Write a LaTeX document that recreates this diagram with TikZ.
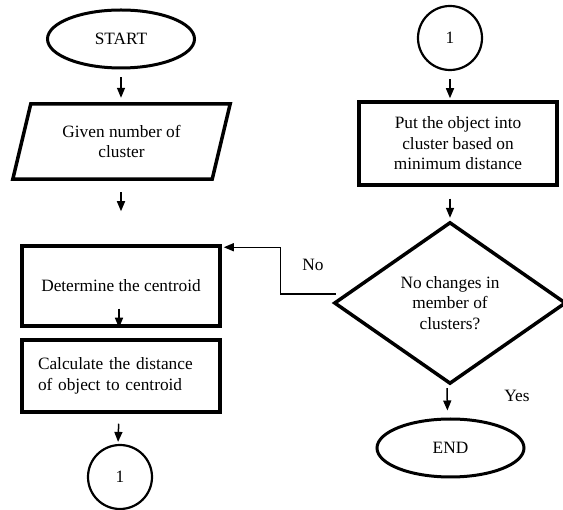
\documentclass[tikz,border=0pt]{standalone}
\usepackage{fontspec}
\setmainfont{Liberation Serif}
\usetikzlibrary{shapes.geometric,arrows.meta,calc}
\begin{document}
\begin{tikzpicture}[x=1pt,y=-1pt,
  font=\fontsize{17.3}{20.5}\selectfont,
  term/.style={ellipse,draw,line width=3pt,minimum width=147pt,minimum height=58pt,inner sep=2pt},
  procbox/.style={rectangle,draw,line width=3.5pt,minimum width=198pt,align=center,inner sep=2pt},
  conn/.style={circle,draw,line width=2.2pt,minimum size=64pt,inner sep=0pt},
  ghost/.style={rectangle,draw=none,inner sep=0pt,align=center},
  arr/.style={-{Triangle[length=10pt,width=8pt]},line width=1.5pt},
  lbl/.style={inner sep=0pt}
]
\useasboundingbox (0,0) rectangle (563,510);

% left column
\node[term] (start) at (121,39) {START};
\node[ghost,minimum width=199pt,minimum height=75pt] (given) at (121.5,141.5) {Given number of\\cluster};
\draw[line width=3.5pt,line join=miter]
  ([xshift=9pt]given.north west) -- ([xshift=9pt]given.north east)
  -- ([xshift=-9pt]given.south east) -- ([xshift=-9pt]given.south west) -- cycle;
\node[procbox,minimum height=80pt] (determine) at (121,286) {Determine the centroid};
\node[procbox,minimum height=72pt,align=left,text width=166pt,inner xsep=16pt] (calc) at (121,376)
  {Calculate the distance\\of object to centroid};
\node[conn] (c1) at (120,477) {1};

% right column
\node[conn] (c2) at (450,38) {1};
\node[procbox,minimum height=83pt] (put) at (458,143.5) {Put the object into\\cluster based on\\minimum distance};
\node[ghost,minimum width=230pt,minimum height=160pt] (dec) at (450,303) {No changes in\\member of\\clusters?};
\draw[line width=3.5pt,line join=miter] (dec.north) -- (dec.east) -- (dec.south) -- (dec.west) -- cycle;
\node[term] (end) at (450.5,448) {END};

% connectors
\draw[arr,shorten <=8pt,shorten >=6pt] (start) -- (given.north -| start);
\draw[arr,shorten <=13pt,shorten >=33pt] (given.south -| start) -- (determine.north -| start);
\draw[arr] ([xshift=-2pt,yshift=19pt]determine.south) -- ([xshift=-2pt]determine.south);
\draw[arr,shorten <=10pt,shorten >=2pt] ([xshift=-2pt]calc.south) -- ([xshift=-2pt]c1.north);
\draw[arr,shorten <=8pt,shorten >=2pt] (c2.south) -- (c2.south |- put.north);
\draw[arr,shorten <=12pt,shorten >=5pt] (put.south -| dec.north) -- (dec.north);
\coordinate (nofrom) at ([xshift=1pt,yshift=9pt]dec.west);
\draw[arr,line width=1.3pt] (nofrom) -- ++(-55,0) |- ([yshift=-3pt,xshift=2pt]determine.north east);
\draw[arr,shorten <=5pt,shorten >=7pt] ([xshift=-3pt]dec.south) -- ([xshift=-3pt]end.north);

% labels
\node[lbl] (nolbl) at (313,265) {No};
\node[lbl] (yeslbl) at (517,396) {Yes};
\end{tikzpicture}
\end{document}
